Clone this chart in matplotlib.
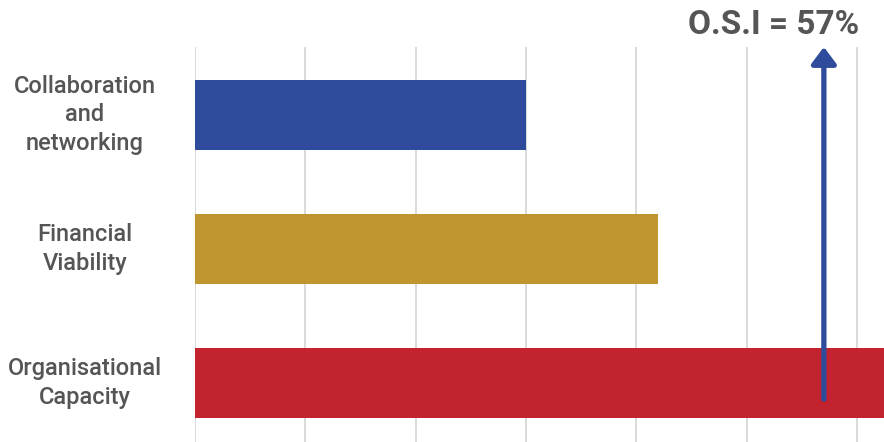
import matplotlib
matplotlib.use('Agg')
import matplotlib.pyplot as plt
import matplotlib.transforms as mtransforms

plt.rcParams['font.family'] = ['Roboto', 'DejaVu Sans']

# ---------------------------------------------------------------------------
# Data
# ---------------------------------------------------------------------------
categories = ['Organisational\nCapacity', 'Financial\nViability', 'Collaboration\nand\nnetworking']
scores = [99, 42, 30]
bar_colors = ['#c2232f', '#be952f', '#2f4b9c']
osi = 57
grid_ticks = [0, 10, 20, 30, 40, 50, 60]

TEXT = '#555555'

fig = plt.figure(figsize=(8.84, 4.42), dpi=100)
ax = fig.add_axes([195 / 884, 0.0, 689 / 884, 395 / 442])

ypos = list(range(len(categories)))
ax.barh(ypos, scores, height=0.522, color=bar_colors, zorder=2)

ax.set_xlim(0, 62.45)
ax.set_ylim(-0.44, 2.507)

ax.set_xticks(grid_ticks)
ax.set_xticklabels([])
ax.set_yticks([])
ax.tick_params(length=0)
ax.grid(axis='x', color='#d9d9d9', lw=1.4, zorder=0)
for s in ax.spines.values():
    s.set_visible(False)

# category labels centred in the left margin
tr = mtransforms.blended_transform_factory(ax.transAxes, ax.transData)
for y, lab in zip(ypos, categories):
    ax.text(-0.1597, y, lab, transform=tr, ha='center', va='center',
            multialignment='center', fontsize=17, fontweight='medium',
            color=TEXT, linespacing=1.3)

# O.S.I marker arrow
ax.annotate('', xy=(osi, 2.507), xytext=(osi, -0.12),
            arrowprops=dict(arrowstyle='-|>,head_width=0.75,head_length=1.0',
                            color='#2f4b9c', lw=3.8, shrinkA=0, shrinkB=0),
            annotation_clip=False, zorder=3)

fig.text(774 / 884, 1 - 25 / 442, f'O.S.I = {osi}%', ha='center', va='center',
         fontsize=24, fontweight='bold', color=TEXT)

fig.savefig('out.png', dpi=100)
